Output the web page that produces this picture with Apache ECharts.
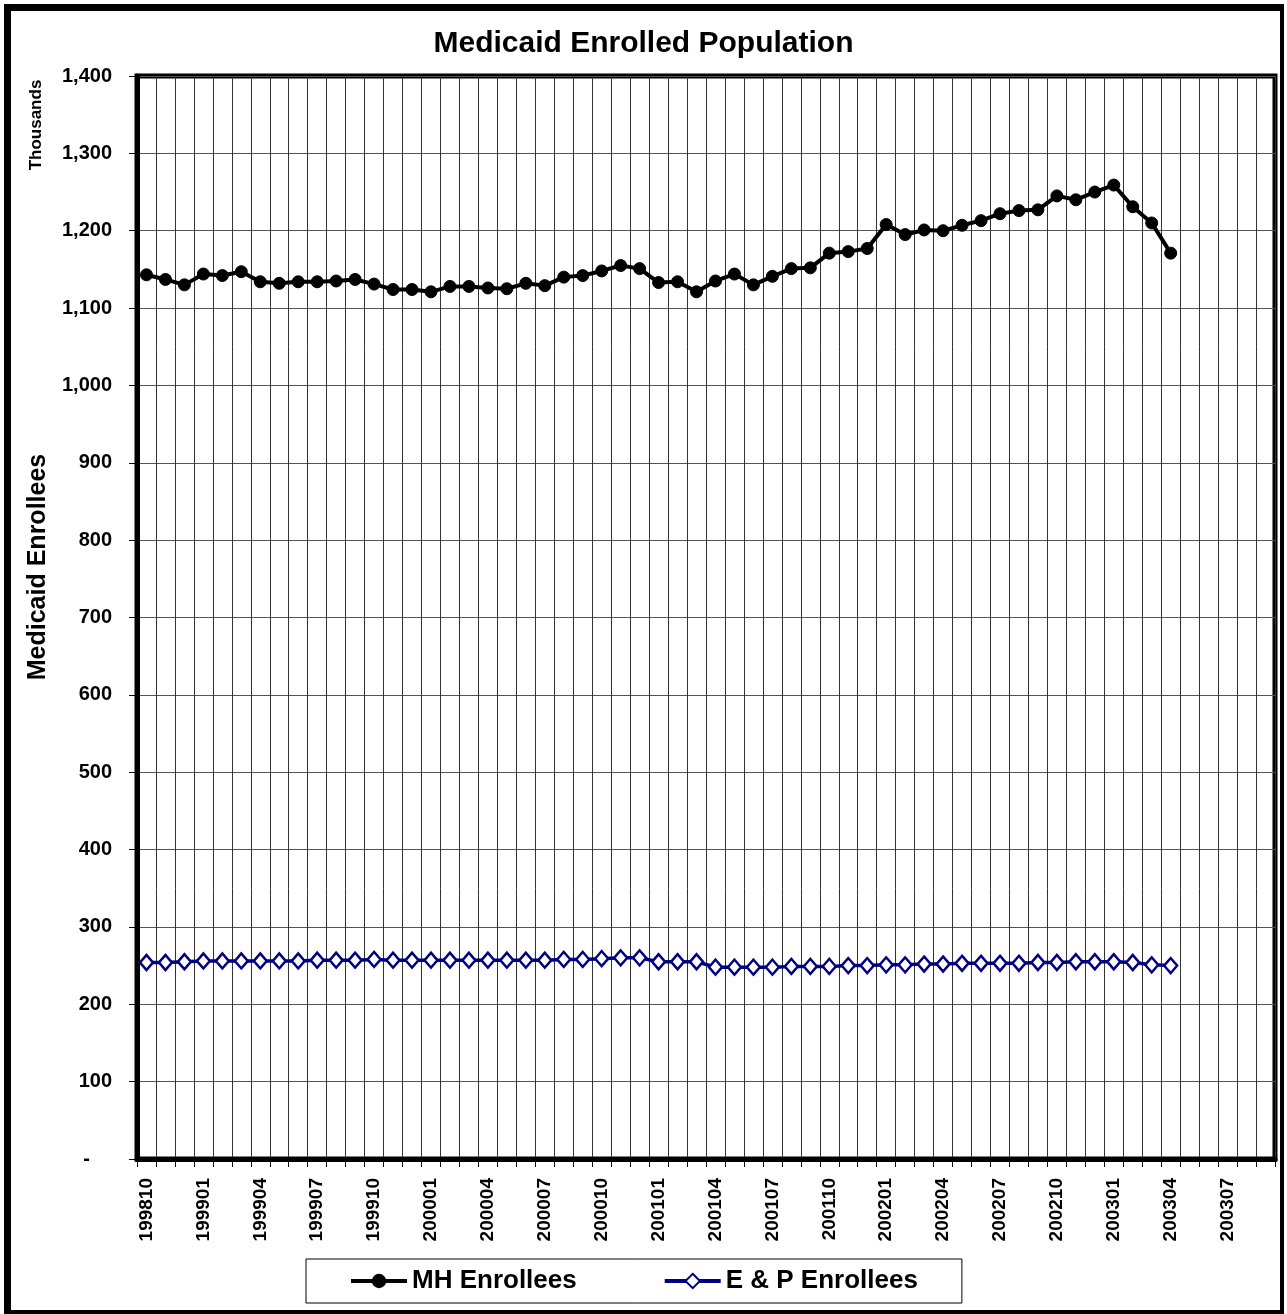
<!DOCTYPE html>
<html>
<head>
<meta charset="utf-8">
<title>Medicaid Enrolled Population</title>
<script src="https://cdn.jsdelivr.net/npm/echarts@6/dist/echarts.min.js"></script>
<style>
  html, body { margin: 0; padding: 0; background: #fff; }
  #chart { width: 1287px; height: 1314px; }
</style>
</head>
<body>
<div id="chart"></div>
<script>
// months shown on the x axis (Oct 1998 .. Sep 2003)
var months = [
  '199810', '199811', '199812', '199901', '199902', '199903', '199904', '199905', '199906', '199907', '199908', '199909',
  '199910', '199911', '199912', '200001', '200002', '200003', '200004', '200005', '200006', '200007', '200008', '200009',
  '200010', '200011', '200012', '200101', '200102', '200103', '200104', '200105', '200106', '200107', '200108', '200109',
  '200110', '200111', '200112', '200201', '200202', '200203', '200204', '200205', '200206', '200207', '200208', '200209',
  '200210', '200211', '200212', '200301', '200302', '200303', '200304', '200305', '200306', '200307', '200308', '200309'
];

// thousands of enrollees, 199810 .. 200304
var mhEnrollees = [
  1143, 1137, 1130, 1144, 1142, 1147, 1134, 1132, 1134, 1134, 1135, 1137,
  1131, 1124, 1124, 1121, 1128, 1128, 1126, 1125, 1132, 1129, 1140, 1142,
  1148, 1155, 1151, 1133, 1134, 1121, 1135, 1144, 1130, 1141, 1151, 1152,
  1171, 1173, 1177, 1208, 1195, 1201, 1200, 1207, 1213, 1222, 1226, 1227,
  1245, 1240, 1250, 1259, 1231, 1210, 1171
];
var epEnrollees = [
  254, 254, 255, 256, 256, 256, 256, 256, 256, 257, 257, 257,
  258, 257, 257, 257, 257, 257, 257, 257, 257, 257, 258, 258,
  259, 260, 260, 255, 255, 255, 248, 248, 248, 248, 249, 249,
  249, 250, 250, 251, 251, 252, 252, 253, 253, 253, 253, 254,
  254, 255, 255, 255, 254, 251, 250
];

var yMax = 1400;
var yStep = 100;

var font = 'Arial, "Liberation Sans", sans-serif';

var chart = echarts.init(document.getElementById('chart'));

chart.setOption({
  backgroundColor: '#fff',
  animation: false,
  title: {
    text: 'Medicaid Enrolled Population',
    left: 'center',
    top: 24,
    textStyle: { fontFamily: font, fontWeight: 'bold', fontSize: 30, color: '#000' }
  },
  graphic: [
    // outer frame (heavier on left/top like the original)
    { type: 'rect', shape: { x: 4, y: 4, width: 7, height: 1310 }, style: { fill: '#000' } },
    { type: 'rect', shape: { x: 4, y: 4, width: 1280, height: 7 }, style: { fill: '#000' } },
    { type: 'rect', shape: { x: 1280, y: 4, width: 4, height: 1310 }, style: { fill: '#000' } },
    { type: 'rect', shape: { x: 4, y: 1310, width: 1280, height: 4 }, style: { fill: '#000' } },
    {
      type: 'text', x: 36, y: 125, rotation: Math.PI / 2,
      style: { text: 'Thousands', fontFamily: font, fontWeight: 'bold', fontSize: 17, fill: '#000', align: 'center', verticalAlign: 'middle' }
    },
    {
      type: 'text', x: 38, y: 567, rotation: Math.PI / 2,
      style: { text: 'Medicaid Enrollees', fontFamily: font, fontWeight: 'bold', fontSize: 25, fill: '#000', align: 'center', verticalAlign: 'middle' }
    }
  ],
  legend: {
    left: 306,
    top: 1259,
    padding: [9, 44, 9, 43],
    itemGap: 86,
    itemWidth: 56,
    itemHeight: 18,
    borderColor: '#000',
    borderWidth: 1,
    textStyle: { fontFamily: font, fontWeight: 'bold', fontSize: 26, color: '#000' },
    data: [
      { name: 'MH Enrollees', lineStyle: { width: 4 } },
      { name: 'E & P Enrollees', lineStyle: { width: 4 } }
    ]
  },
  grid: {
    left: 137,
    top: 76,
    width: 1138,
    height: 1083,
    show: true,
    borderColor: '#000',
    borderWidth: 5,
    backgroundColor: 'transparent'
  },
  xAxis: {
    type: 'category',
    data: months,
    boundaryGap: true,
    axisLine: { lineStyle: { color: '#000', width: 5 } },
    axisTick: { show: true, interval: 0, length: 8, lineStyle: { color: '#000', width: 1 } },
    axisLabel: {
      interval: 2,
      rotate: 90,
      margin: 19,
      fontFamily: font,
      fontWeight: 'bold',
      fontSize: 19,
      color: '#000'
    },
    splitLine: { show: true, interval: 0, lineStyle: { color: '#333', width: 1 } }
  },
  yAxis: {
    type: 'value',
    min: 0,
    max: yMax,
    interval: yStep,
    axisLine: { show: true, lineStyle: { color: '#000', width: 5 } },
    axisTick: { show: true, length: 8, lineStyle: { color: '#000', width: 1 } },
    axisLabel: {
      margin: 25,
      fontFamily: font,
      fontWeight: 'bold',
      fontSize: 20,
      color: '#000',
      formatter: function (v) {
        if (v === 0) return '{d|-}';
        return v.toLocaleString('en-US');
      },
      rich: {
        d: { fontFamily: font, fontWeight: 'bold', fontSize: 20, color: '#000', padding: [0, 22, 0, 0] }
      }
    },
    splitLine: { show: true, lineStyle: { color: '#555', width: 1 } }
  },
  series: [
    {
      name: 'MH Enrollees',
      type: 'line',
      data: mhEnrollees,
      symbol: 'circle',
      symbolSize: 12,
      showAllSymbol: true,
      lineStyle: { color: '#000', width: 4 },
      itemStyle: { color: '#000', borderColor: '#000' },
      z: 3
    },
    {
      name: 'E & P Enrollees',
      type: 'line',
      data: epEnrollees,
      symbol: 'diamond',
      symbolSize: [13, 15],
      showAllSymbol: true,
      lineStyle: { color: '#000080', width: 3.5 },
      itemStyle: { color: '#fff', borderColor: '#000080', borderWidth: 2.5 },
      z: 3
    }
  ]
});
</script>
</body>
</html>
